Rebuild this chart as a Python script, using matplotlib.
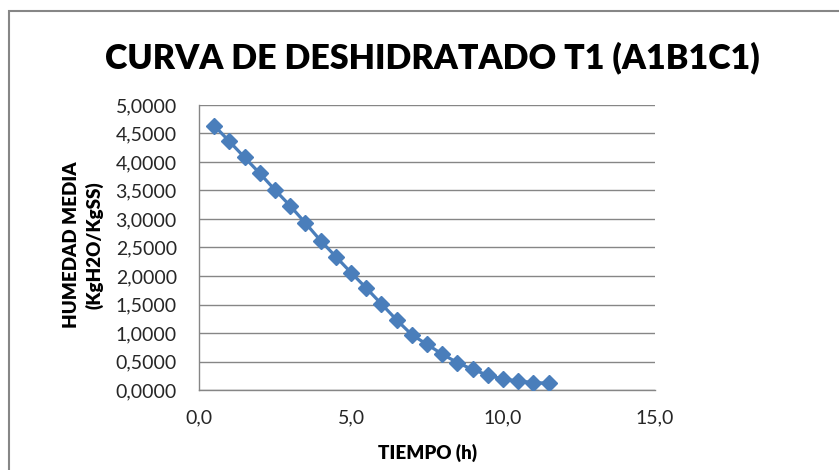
import matplotlib.pyplot as plt
from matplotlib.patches import Rectangle
from matplotlib.ticker import FuncFormatter, MultipleLocator

# Datos
tiempo = [0.5, 1.0, 1.5, 2.0, 2.5, 3.0, 3.5, 4.0, 4.5, 5.0, 5.5, 6.0,
          6.5, 7.0, 7.5, 8.0, 8.5, 9.0, 9.5, 10.0, 10.5, 11.0, 11.5]
humedad = [4.64, 4.36, 4.08, 3.80, 3.51, 3.23, 2.93, 2.62, 2.34, 2.06, 1.79, 1.51,
           1.23, 0.97, 0.80, 0.63, 0.48, 0.36, 0.26, 0.19, 0.16, 0.13, 0.12]

title = "CURVA DE DESHIDRATADO T1 (A1B1C1)"
xlabel = "TIEMPO (h)"
ylabel = "HUMEDAD MEDIA\n(KgH2O/KgSS)"

plt.rcParams['font.family'] = ['Lato', 'DejaVu Sans']

fig = plt.figure(figsize=(8.39, 4.70), dpi=100)
ax = fig.add_axes([199 / 839, 80 / 470, 456 / 839, 285 / 470])

ax.plot(tiempo, humedad, color='#4A7EBB', linewidth=2.3, marker='D',
        markersize=8.5, markeredgecolor='#4A7EBB', zorder=3)

ax.set_xlim(0, 15)
ax.set_ylim(0, 5)
ax.xaxis.set_major_locator(MultipleLocator(5))
ax.yaxis.set_major_locator(MultipleLocator(0.5))
ax.xaxis.set_major_formatter(FuncFormatter(lambda v, p: f"{v:.1f}".replace('.', ',')))
ax.yaxis.set_major_formatter(FuncFormatter(lambda v, p: f"{v:.4f}".replace('.', ',')))

ax.grid(axis='y', color='#868686', linewidth=1)
ax.set_axisbelow(True)
for s in ['top', 'right']:
    ax.spines[s].set_visible(False)
for s in ['left', 'bottom']:
    ax.spines[s].set_color('#868686')
    ax.spines[s].set_linewidth(1)
ax.tick_params(axis='both', labelcolor='#262626', labelsize=14, length=0)
ax.tick_params(axis='x', pad=14)
ax.tick_params(axis='y', pad=16)

fig.text(432 / 839, 1 - 58 / 470, title, ha='center', va='center',
         fontsize=24.5, fontweight='heavy', color='black')
fig.text(427 / 839, 1 - 453 / 470, xlabel, ha='center', va='center',
         fontsize=13.5, fontweight='heavy', color='black')
fig.text(83 / 839, 1 - 245 / 470, ylabel, ha='center', va='center', rotation=90,
         fontsize=13.5, fontweight='heavy', color='black', linespacing=1.35)

# borde del area del grafico (recortado a la derecha y abajo)
fig.patches.append(Rectangle((9 / 839, -0.1), 1.2, 1 - 11 / 470 + 0.1,
                             transform=fig.transFigure, fill=False,
                             edgecolor='#868686', linewidth=1.5))

fig.savefig('out.png', dpi=100)
